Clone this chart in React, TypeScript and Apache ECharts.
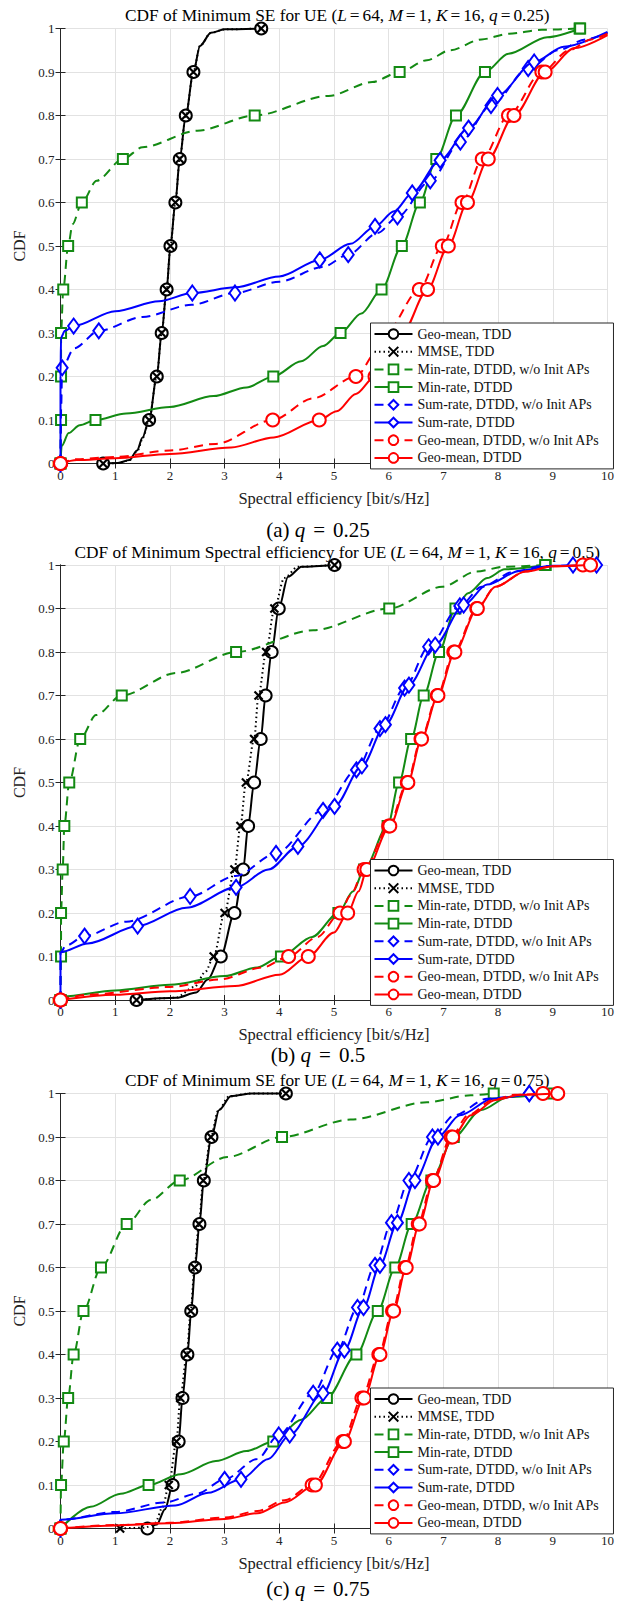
import React, { useEffect, useRef } from "react";
import * as echarts from "echarts";

type P = [number, number, number]; // [x, cdf, marker?]

const names = [
  "Geo-mean, TDD",
  "MMSE, TDD",
  "Min-rate, DTDD, w/o Init APs",
  "Min-rate, DTDD",
  "Sum-rate, DTDD, w/o Init APs",
  "Sum-rate, DTDD",
  "Geo-mean, DTDD, w/o Init APs",
  "Geo-mean, DTDD",
];
const xTicks = [0, 1, 2, 3, 4, 5, 6, 7, 8, 9, 10];
const yTicks = [0, 0.1, 0.2, 0.3, 0.4, 0.5, 0.6, 0.7, 0.8, 0.9, 1];

// ---------- (a) q = 0.25 ----------
const A_geoTDD: P[] = [[0.78,0,1],[1.05,0.001,0],[1.26,0.008,0],[1.4,0.03,0],[1.5,0.06,0],[1.62,0.1,1],[1.76,0.2,1],[1.85,0.3,1],[1.94,0.4,1],[2.01,0.5,1],[2.1,0.6,1],[2.18,0.7,1],[2.29,0.8,1],[2.43,0.9,1],[2.55,0.96,0],[2.75,0.99,0],[3.0,0.998,0],[3.67,1,1]];
const A_mmse: P[] = [[0.78,0,1],[1.06,0.001,0],[1.27,0.008,0],[1.41,0.03,0],[1.51,0.06,0],[1.62,0.1,1],[1.76,0.2,1],[1.85,0.3,1],[1.94,0.4,1],[2.01,0.5,1],[2.1,0.6,1],[2.18,0.7,1],[2.29,0.8,1],[2.43,0.9,1],[2.55,0.96,0],[2.75,0.99,0],[3.0,0.998,0],[3.67,1,1]];
const A_minW: P[] = [[0,0,1],[0.01,0.1,1],[0.01,0.2,1],[0.01,0.3,1],[0.05,0.4,1],[0.14,0.5,1],[0.22,0.55,0],[0.39,0.6,1],[0.66,0.65,0],[1.14,0.7,1],[1.5,0.727,0],[2.5,0.765,0],[3.55,0.8,1],[4.9,0.845,0],[5.7,0.877,0],[6.2,0.9,1],[6.7,0.927,0],[7.12,0.95,0],[7.7,0.975,0],[8.2,0.988,0],[8.8,0.997,0],[9.49,1,1]];
const A_min: P[] = [[0,0,1],[0.02,0.04,0],[0.15,0.07,0],[0.35,0.088,0],[0.64,0.1,1],[1.2,0.115,0],[2,0.13,0],[2.8,0.155,0],[3.4,0.175,0],[3.89,0.2,1],[4.4,0.235,0],[4.8,0.27,0],[5.12,0.3,1],[5.5,0.345,0],[5.87,0.4,1],[6.24,0.5,1],[6.57,0.6,1],[6.87,0.7,1],[7.23,0.8,1],[7.76,0.9,1],[8.19,0.942,0],[8.9,0.98,0],[9.5,1,1]];
const A_sumW: P[] = [[0,0,1],[0.01,0.12,0],[0.03,0.22,1],[0.25,0.265,0],[0.7,0.305,1],[1.5,0.337,0],[2.4,0.365,0],[3.19,0.392,1],[4.0,0.418,0],[4.8,0.452,0],[5.26,0.48,1],[5.8,0.53,0],[6.16,0.567,1],[6.76,0.65,1],[7.31,0.739,1],[7.87,0.823,1],[8.55,0.908,1],[9.1,0.95,0],[9.6,0.975,0],[10,0.99,0]];
const A_sum: P[] = [[0,0,1],[0,0.2,0],[0.01,0.29,0],[0.08,0.305,0],[0.24,0.316,1],[1,0.35,0],[1.8,0.373,0],[2.41,0.392,1],[3.2,0.405,0],[4,0.43,0],[4.74,0.468,1],[5.3,0.505,0],[5.75,0.545,1],[6.1,0.58,0],[6.43,0.622,1],[6.94,0.697,1],[7.46,0.771,1],[7.99,0.846,1],[8.66,0.923,1],[9.2,0.958,0],[10,0.992,0]];
const A_geoW: P[] = [[0,0,1],[0.3,0.01,0],[1,0.015,0],[2,0.03,0],[2.84,0.045,0],[3.88,0.1,1],[4.62,0.15,0],[5.4,0.2,1],[5.8,0.26,0],[5.95,0.3,1],[6.56,0.4,1],[6.98,0.5,1],[7.34,0.6,1],[7.71,0.7,1],[8.19,0.8,1],[8.8,0.9,1],[9.3,0.95,0],[9.7,0.975,0],[10,0.988,0]];
const A_geo: P[] = [[0,0,1],[0.3,0.008,0],[1,0.012,0],[2,0.022,0],[3.12,0.037,0],[3.9,0.06,0],[4.73,0.1,1],[5.05,0.12,0],[5.4,0.16,0],[5.75,0.2,1],[6.0,0.25,0],[6.25,0.3,1],[6.71,0.4,1],[7.09,0.5,1],[7.44,0.6,1],[7.82,0.7,1],[8.29,0.8,1],[8.86,0.9,1],[9.4,0.955,0],[10,0.985,0]];

// ---------- (b) q = 0.5 ----------
const B_geoTDD: P[] = [[1.39,0,1],[2.12,0.005,0],[2.48,0.017,0],[2.69,0.047,0],[2.93,0.1,1],[3.18,0.2,1],[3.34,0.3,1],[3.43,0.4,1],[3.54,0.5,1],[3.66,0.6,1],[3.75,0.7,1],[3.86,0.8,1],[3.99,0.9,1],[4.16,0.973,0],[4.41,0.996,0],[5.01,1,1]];
const B_mmse: P[] = [[1.39,0,1],[2.1,0.005,0],[2.45,0.03,0],[2.65,0.065,0],[2.8,0.1,1],[3.0,0.2,1],[3.18,0.3,1],[3.29,0.4,1],[3.39,0.5,1],[3.54,0.6,1],[3.62,0.7,1],[3.76,0.8,1],[3.91,0.9,1],[4.09,0.97,0],[4.34,0.996,0],[5.01,1,1]];
const B_minW: P[] = [[0,0,1],[0.01,0.1,1],[0.01,0.2,1],[0.04,0.3,1],[0.07,0.4,1],[0.16,0.5,1],[0.36,0.6,1],[0.65,0.655,0],[1.12,0.7,1],[2.12,0.752,0],[3.21,0.8,1],[4.62,0.85,0],[6.01,0.9,1],[6.98,0.95,0],[7.6,0.985,0],[8.12,0.996,0],[8.87,1,1]];
const B_min: P[] = [[0,0,1],[0.05,0.008,0],[1,0.022,0],[2,0.035,0],[3,0.055,0],[3.6,0.075,0],[4.03,0.1,1],[4.6,0.145,0],[5.08,0.2,1],[5.35,0.25,0],[5.55,0.3,1],[5.98,0.4,1],[6.19,0.5,1],[6.41,0.6,1],[6.64,0.7,1],[6.92,0.8,1],[7.22,0.9,1],[7.45,0.935,0],[7.8,0.97,0],[8.12,0.99,0],[8.86,1,1]];
const B_sumW: P[] = [[0,0,1],[0,0.11,0],[0.1,0.125,0],[0.44,0.147,1],[1.2,0.18,0],[2.37,0.238,1],[3.2,0.285,0],[3.94,0.337,1],[4.8,0.436,1],[5.41,0.529,1],[5.84,0.624,1],[6.29,0.717,1],[6.73,0.812,1],[7.3,0.906,1],[7.7,0.95,0],[8.3,0.985,0],[8.8,0.997,0],[9.37,1,1]];
const B_sum: P[] = [[0,0,1],[0,0.11,0],[0.5,0.13,0],[1.41,0.17,1],[2.3,0.212,0],[3.21,0.259,1],[3.8,0.3,0],[4.34,0.353,1],[5.01,0.445,1],[5.51,0.538,1],[5.94,0.633,1],[6.37,0.724,1],[6.85,0.816,1],[7.37,0.908,1],[7.8,0.955,0],[8.4,0.987,0],[9.0,0.998,0],[9.8,1,1]];
const B_geoW: P[] = [[0,0,1],[0.5,0.012,0],[2,0.03,0],[2.9,0.047,0],[3.7,0.075,0],[4.17,0.1,1],[4.7,0.145,0],[5.11,0.2,1],[5.3,0.24,0],[5.55,0.3,1],[6.0,0.4,1],[6.34,0.5,1],[6.59,0.6,1],[6.89,0.7,1],[7.19,0.8,1],[7.61,0.9,1],[7.95,0.95,0],[8.5,0.985,0],[9.0,0.997,0],[9.55,1,1]];
const B_geo: P[] = [[0,0,1],[1,0.012,0],[2,0.02,0],[3.19,0.032,0],[4,0.058,0],[4.53,0.1,1],[5.0,0.155,0],[5.25,0.2,1],[5.45,0.25,0],[5.6,0.3,1],[6.02,0.4,1],[6.35,0.5,1],[6.6,0.6,1],[6.9,0.7,1],[7.21,0.8,1],[7.62,0.9,1],[7.95,0.95,0],[8.5,0.985,0],[9.0,0.997,0],[9.69,1,1]];

// ---------- (c) q = 0.75 ----------
const C_geoTDD: P[] = [[1.59,0,1],[1.76,0.009,0],[1.91,0.044,0],[2.05,0.1,1],[2.16,0.2,1],[2.23,0.3,1],[2.32,0.4,1],[2.39,0.5,1],[2.46,0.6,1],[2.54,0.7,1],[2.62,0.8,1],[2.76,0.9,1],[2.9,0.962,0],[3.12,0.994,0],[3.5,1,0],[4.12,1,1]];
const C_mmse: P[] = [[1.09,0,1],[1.55,0.002,0],[1.73,0.013,0],[1.87,0.05,0],[1.98,0.1,1],[2.12,0.2,1],[2.19,0.3,1],[2.31,0.4,1],[2.38,0.5,1],[2.45,0.6,1],[2.53,0.7,1],[2.61,0.8,1],[2.75,0.9,1],[2.88,0.96,0],[3.08,0.993,0],[3.45,1,0],[4.12,1,1]];
const C_minW: P[] = [[0,0,1],[0.01,0.1,1],[0.06,0.2,1],[0.14,0.3,1],[0.24,0.4,1],[0.42,0.5,1],[0.74,0.6,1],[1.21,0.7,1],[1.65,0.755,0],[2.18,0.8,1],[3.05,0.854,0],[4.05,0.9,1],[5.3,0.94,0],[6.7,0.98,0],[7.5,0.996,0],[7.92,1,1]];
const C_min: P[] = [[0,0,1],[0.55,0.05,0],[1.1,0.08,0],[1.61,0.1,1],[2.2,0.125,0],[2.84,0.155,0],[3.4,0.178,0],[3.89,0.2,1],[4.4,0.25,0],[4.87,0.3,1],[5.41,0.4,1],[5.8,0.5,1],[6.12,0.6,1],[6.42,0.7,1],[6.78,0.8,1],[7.19,0.9,1],[7.69,0.962,0],[8.19,0.992,0],[9.01,1,1]];
const C_sumW: P[] = [[0,0,1],[0,0.02,0],[1,0.038,0],[1.9,0.06,0],[2.5,0.08,0],[3,0.113,1],[3.6,0.16,0],[3.99,0.215,1],[4.62,0.311,1],[5.06,0.41,1],[5.43,0.508,1],[5.75,0.605,1],[6.05,0.703,1],[6.37,0.8,1],[6.8,0.9,1],[7.2,0.95,0],[7.8,0.988,0],[8.57,1,1]];
const C_sum: P[] = [[0,0,1],[0,0.02,0],[1,0.035,0],[2.1,0.053,0],[2.7,0.082,0],[3.3,0.113,1],[3.8,0.16,0],[4.19,0.215,1],[4.8,0.311,1],[5.19,0.41,1],[5.54,0.508,1],[5.84,0.605,1],[6.16,0.703,1],[6.48,0.8,1],[6.9,0.9,1],[7.3,0.95,0],[7.9,0.988,0],[8.57,1,1]];
const C_geoW: P[] = [[0,0,1],[1,0.008,0],[2,0.013,0],[3,0.025,0],[3.6,0.04,0],[4.1,0.065,0],[4.6,0.1,1],[5.16,0.2,1],[5.51,0.3,1],[5.82,0.4,1],[6.07,0.5,1],[6.3,0.6,1],[6.54,0.7,1],[6.8,0.8,1],[7.14,0.9,1],[7.45,0.95,0],[7.9,0.985,0],[8.3,0.997,0],[8.82,1,1]];
const C_geo: P[] = [[0,0,1],[1,0.007,0],[2,0.012,0],[3,0.022,0],[3.6,0.035,0],[4.1,0.06,0],[4.66,0.1,1],[5.19,0.2,1],[5.55,0.3,1],[5.84,0.4,1],[6.09,0.5,1],[6.32,0.6,1],[6.56,0.7,1],[6.82,0.8,1],[7.17,0.9,1],[7.5,0.95,0],[7.95,0.985,0],[8.4,0.997,0],[9.09,1,1]];

// text pieces: single letters L/M/K/q are math-italic symbols, "=" gets math spacing
const panels = [
  { title: ["CDF of Minimum SE for UE (", "L", "=", "64, ", "M", "=", "1, ", "K", "=", "16, ", "q", "=", "0.25)"], caption: ["(a) ", "q", "=", "0.25"], data: [A_geoTDD, A_mmse, A_minW, A_min, A_sumW, A_sum, A_geoW, A_geo] },
  { title: ["CDF of Minimum Spectral efficiency for UE (", "L", "=", "64, ", "M", "=", "1, ", "K", "=", "16, ", "q", "=", "0.5)"], caption: ["(b) ", "q", "=", "0.5"], data: [B_geoTDD, B_mmse, B_minW, B_min, B_sumW, B_sum, B_geoW, B_geo] },
  { title: ["CDF of Minimum SE for UE (", "L", "=", "64, ", "M", "=", "1, ", "K", "=", "16, ", "q", "=", "0.75)"], caption: ["(c) ", "q", "=", "0.75"], data: [C_geoTDD, C_mmse, C_minW, C_min, C_sumW, C_sum, C_geoW, C_geo] },
];

const FONT = "'Liberation Serif', 'Times New Roman', serif";
const GREEN = "#138a13";
const styles = [
  { color: "#000000", type: "solid", symbol: "emptyCircle", size: 12 },
  { color: "#000000", type: [1.5, 3], symbol: "path://M0 0L10 10M10 0L0 10", size: 8 },
  { color: GREEN, type: [9, 6], symbol: "emptyRect", size: 10 },
  { color: GREEN, type: "solid", symbol: "emptyRect", size: 10 },
  { color: "#0000ff", type: [9, 6], symbol: "emptyDiamond", size: [11, 15] },
  { color: "#0000ff", type: "solid", symbol: "emptyDiamond", size: [11, 15] },
  { color: "#ff0000", type: [9, 6], symbol: "emptyCircle", size: 13 },
  { color: "#ff0000", type: "solid", symbol: "emptyCircle", size: 13 },
];

const TOPS = [28.5, 565, 1093.5];
const CAPTION_Y = [530, 1055, 1589];
const PLOT_LEFT = 60.5;
const PLOT_W = 553.5;
const PLOT_H = 435;

function richText(parts: string[]) {
  return parts
    .map((p) => (p === "=" ? `{e|=}` : /^[LMKq]$/.test(p) ? `{i|${p}}` : `{n|${p}}`))
    .join("");
}
function richStyles(size: number, eqPad: number) {
  return {
    n: { fontFamily: FONT, fontSize: size, fill: "#000" },
    i: { fontFamily: FONT, fontSize: size, fontStyle: "italic", fill: "#000" },
    e: { fontFamily: FONT, fontSize: size, fill: "#000", padding: [0, eqPad, 0, eqPad] },
  };
}

export default function App() {
  const ref = useRef<HTMLDivElement>(null);
  useEffect(() => {
    if (!ref.current) return;
    const chart = echarts.init(ref.current, undefined, { renderer: "svg" });
    const grid: any[] = [];
    const xAxis: any[] = [];
    const yAxis: any[] = [];
    const legend: any[] = [];
    const series: any[] = [];
    const graphic: any[] = [];
    const axisColor = "#262626";
    panels.forEach((pn, k) => {
      const top = TOPS[k];
      grid.push({ left: PLOT_LEFT, top, width: PLOT_W, height: PLOT_H });
      const tick = { show: true, inside: true, length: 5, lineStyle: { color: axisColor, width: 1 } };
      const line = { show: true, lineStyle: { color: axisColor, width: 1 } };
      xAxis.push({
        type: "value", gridIndex: k, min: xTicks[0], max: xTicks[xTicks.length - 1], interval: 1, position: "bottom",
        axisLine: line, axisTick: tick,
        axisLabel: { color: "#222", fontFamily: FONT, fontSize: 13, margin: 5, formatter: (v: number) => String(v) },
        splitLine: { show: true, lineStyle: { color: "#e2e2e2", width: 1 } },
        name: "Spectral efficiency [bit/s/Hz]", nameLocation: "middle", nameGap: 26,
        nameTextStyle: { color: "#222", fontFamily: FONT, fontSize: 16.5 },
      });
      xAxis.push({
        type: "value", gridIndex: k, min: 0, max: 10, interval: 1, position: "top",
        axisLine: line, axisTick: tick, axisLabel: { show: false }, splitLine: { show: false },
      });
      yAxis.push({
        type: "value", gridIndex: k, min: yTicks[0], max: yTicks[yTicks.length - 1], interval: 0.1, position: "left",
        axisLine: line, axisTick: tick,
        axisLabel: {
          color: "#222", fontFamily: FONT, fontSize: 13, margin: 6,
          formatter: (v: number) => (Math.abs(v) < 1e-9 ? "0" : Math.abs(v - 1) < 1e-9 ? "1" : v.toFixed(1)),
        },
        splitLine: { show: true, lineStyle: { color: "#e2e2e2", width: 1 } },
        name: "CDF", nameLocation: "middle", nameGap: 30,
        nameTextStyle: { color: "#222", fontFamily: FONT, fontSize: 16 },
      });
      yAxis.push({
        type: "value", gridIndex: k, min: 0, max: 1, interval: 0.1, position: "right",
        axisLine: line, axisTick: tick, axisLabel: { show: false }, splitLine: { show: false },
      });
      legend.push({
        orient: "vertical", left: 370.5, top: top + 294.5,
        itemWidth: 38, itemHeight: 12, itemGap: 3.7,
        padding: [4, 14, 4, 3],
        backgroundColor: "#ffffff", borderColor: axisColor, borderWidth: 1, borderRadius: 0,
        textStyle: { color: "#111", fontFamily: FONT, fontSize: 14 },
        selectedMode: false,
        data: names.map((n) => ({ name: n })),
        z: 10,
      });
      pn.data.forEach((arr, i) => {
        const st = styles[i];
        series.push({
          type: "line",
          name: names[i],
          xAxisIndex: 2 * k,
          yAxisIndex: 2 * k,
          data: arr.map(([x, y, m]) => (m ? { value: [x, y] } : { value: [x, y], symbol: "none" })),
          symbol: st.symbol,
          symbolSize: st.size,
          showSymbol: true,
          smooth: 0.3,
          smoothMonotone: "x",
          clip: false,
          lineStyle: { color: st.color, width: 2, type: st.type },
          itemStyle: { color: st.color, borderColor: st.color, borderWidth: i === 1 ? 2.2 : 1.8 },
          emphasis: { disabled: true },
          z: 2 + i * 0.01,
        });
      });
      graphic.push({
        type: "text", x: PLOT_LEFT + PLOT_W / 2, y: top - 13,
        style: {
          text: richText(pn.title), align: "center", verticalAlign: "middle", fill: "#000",
          rich: richStyles(17.3, 3),
        },
      });
      graphic.push({
        type: "text", x: 318, y: CAPTION_Y[k],
        style: {
          text: richText(pn.caption), align: "center", verticalAlign: "middle", fill: "#000",
          rich: richStyles(21, 8),
        },
      });
    });
    chart.setOption({
      animation: false,
      backgroundColor: "#ffffff",
      grid, xAxis, yAxis, legend, series, graphic,
    });
    return () => chart.dispose();
  }, []);
  return (
    <div
      ref={ref}
      style={{ position: "absolute", left: 0, top: 0, width: 617, height: 1603, background: "#fff" }}
    />
  );
}
